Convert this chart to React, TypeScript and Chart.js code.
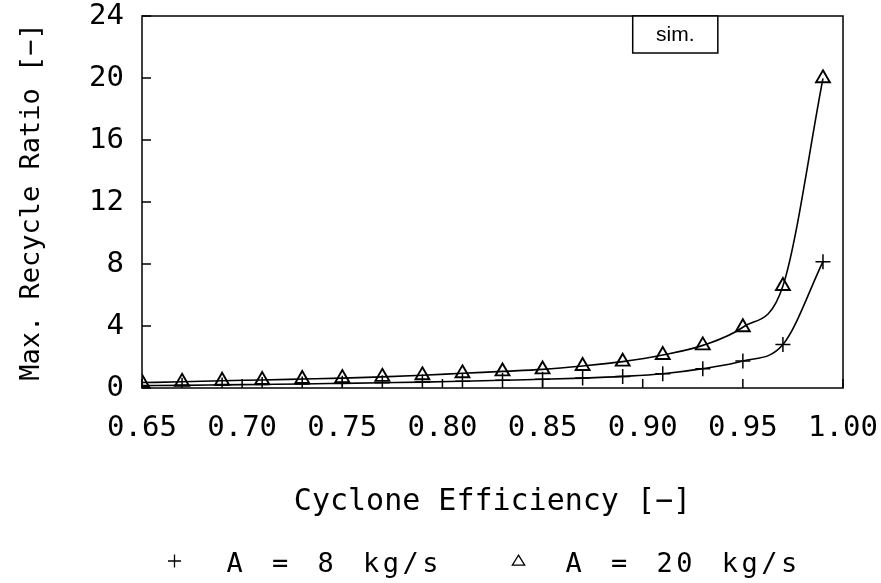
import React, { useEffect, useRef } from "react";
import { Chart, registerables } from "chart.js";

Chart.register(...registerables);

const efficiency = [0.65, 0.67, 0.69, 0.71, 0.73, 0.75, 0.77, 0.79, 0.81, 0.83, 0.85, 0.87, 0.89, 0.91, 0.93, 0.95, 0.97, 0.99];
const ratioA8 = [0.15, 0.17, 0.2, 0.23, 0.26, 0.3, 0.34, 0.38, 0.44, 0.5, 0.56, 0.64, 0.75, 0.92, 1.25, 1.74, 2.8, 8.15];
const ratioA20 = [0.35, 0.4, 0.47, 0.52, 0.58, 0.64, 0.72, 0.82, 0.95, 1.07, 1.2, 1.42, 1.7, 2.13, 2.75, 3.92, 6.58, 19.98];
const seriesLabels = ["A = 8 kg/s", "A = 20 kg/s"];
const xTickValues = [0.65, 0.7, 0.75, 0.8, 0.85, 0.9, 0.95, 1.0];
const yTickValues = [0, 4, 8, 12, 16, 20, 24];
const xTitle = "Cyclone Efficiency [−]";
const yTitle = "Max. Recycle Ratio [−]";
const noteText = "sim.";
const noteRange = [0.895, 0.9375];

const MONO = "'DejaVu Sans Mono', monospace";
const SANS = "'Liberation Sans', Arial, sans-serif";

function drawMarker(ctx: CanvasRenderingContext2D, style: string, r: number, x: number, y: number) {
  ctx.beginPath();
  if (style === "cross") {
    ctx.moveTo(x - r, y);
    ctx.lineTo(x + r, y);
    ctx.moveTo(x, y - r);
    ctx.lineTo(x, y + r);
  } else {
    const h = r * 0.9;
    ctx.moveTo(x, y - h);
    ctx.lineTo(x + r * 0.95, y + h * 0.7);
    ctx.lineTo(x - r * 0.95, y + h * 0.7);
    ctx.closePath();
  }
  ctx.stroke();
}

const framePlugin = {
  id: "frame",
  afterDraw(chart: any) {
    const { ctx, chartArea, scales } = chart;
    const { left, right, top, bottom } = chartArea;
    ctx.save();
    ctx.strokeStyle = "#000";
    ctx.lineWidth = 1.5;
    ctx.strokeRect(left, top, right - left, bottom - top);
    // inward ticks
    ctx.beginPath();
    for (const v of xTickValues) {
      const px = scales.x.getPixelForValue(v);
      ctx.moveTo(px, bottom);
      ctx.lineTo(px, bottom - 9);
    }
    for (const v of yTickValues) {
      const py = scales.y.getPixelForValue(v);
      ctx.moveTo(left, py);
      ctx.lineTo(left + 9, py);
    }
    ctx.stroke();
    // note box
    const x0 = scales.x.getPixelForValue(noteRange[0]);
    const x1 = scales.x.getPixelForValue(noteRange[1]);
    const y0 = top;
    const h = 37;
    ctx.fillStyle = "#fff";
    ctx.fillRect(x0, y0, x1 - x0, h);
    ctx.strokeRect(x0, y0, x1 - x0, h);
    ctx.fillStyle = "#000";
    ctx.font = `21px ${SANS}`;
    ctx.textAlign = "center";
    ctx.textBaseline = "middle";
    ctx.fillText(noteText, (x0 + x1) / 2, y0 + h / 2 + 1);
    ctx.restore();

    // legend
    const cx = (left + right) / 2;
    const baseY = 572;
    const markY = 561;
    const items = [
      { style: chart.data.datasets[0].pointStyle, markX: cx - 318, textX: cx - 266, text: chart.data.datasets[0].label },
      { style: chart.data.datasets[1].pointStyle, markX: cx + 26, textX: cx + 73, text: chart.data.datasets[1].label },
    ];
    ctx.save();
    ctx.fillStyle = "#000";
    ctx.strokeStyle = "#000";
    ctx.font = `27px ${MONO}`;
    try {
      (ctx as any).letterSpacing = "3.5px";
      (ctx as any).wordSpacing = "6px";
    } catch (e) {}
    ctx.textAlign = "left";
    ctx.textBaseline = "alphabetic";
    for (const it of items) {
      ctx.lineWidth = 1.3;
      drawMarker(ctx, it.style, 6.5, it.markX, markY);
      ctx.fillText(it.text, it.textX, baseY);
    }
    ctx.restore();
  },
};

const zeroPadding = (s: any) => {
  s.paddingTop = 0;
  s.paddingBottom = 0;
  s.paddingLeft = 0;
  s.paddingRight = 0;
};

export default function App() {
  const ref = useRef<HTMLCanvasElement>(null);
  useEffect(() => {
    if (!ref.current) return;
    const chart = new Chart(ref.current, {
      type: "line",
      data: {
        datasets: [
          {
            label: seriesLabels[0],
            data: efficiency.map((x, i) => ({ x, y: ratioA8[i] })),
            borderColor: "#000",
            backgroundColor: "transparent",
            borderWidth: 1.6,
            pointStyle: "cross",
            pointRadius: 7.5,
            pointBorderWidth: 1.5,
            pointBorderColor: "#000",
            pointBackgroundColor: "transparent",
            cubicInterpolationMode: "monotone",
            fill: false,
          },
          {
            label: seriesLabels[1],
            data: efficiency.map((x, i) => ({ x, y: ratioA20[i] })),
            borderColor: "#000",
            backgroundColor: "transparent",
            borderWidth: 1.6,
            pointStyle: "triangle",
            pointRadius: 8,
            pointBorderWidth: 1.9,
            pointBorderColor: "#000",
            pointBackgroundColor: "transparent",
            cubicInterpolationMode: "monotone",
            fill: false,
          },
        ],
      },
      options: {
        animation: false,
        responsive: false,
        layout: { padding: { left: 0, right: 38, top: 16, bottom: 0 } },
        plugins: {
          tooltip: { enabled: false },
          legend: { display: false },
        },
        scales: {
          x: {
            type: "linear",
            min: 0.65,
            max: 1.0,
            afterBuildTicks: (s: any) => {
              s.ticks = xTickValues.map((v) => ({ value: v }));
            },
            afterFit: (s: any) => {
              s.height = 195;
              zeroPadding(s);
            },
            ticks: {
              color: "#000",
              font: { family: MONO, size: 29 },
              padding: 23,
              maxRotation: 0,
              autoSkip: false,
              callback: (v: any) => Number(v).toFixed(2),
            },
            grid: { display: false, drawTicks: false },
            border: { display: false },
            title: {
              display: true,
              text: xTitle,
              color: "#000",
              font: { family: MONO, size: 30 },
              padding: { top: 10, bottom: 63 },
            },
          },
          y: {
            type: "linear",
            min: 0,
            max: 24,
            afterBuildTicks: (s: any) => {
              s.ticks = yTickValues.map((v) => ({ value: v }));
            },
            afterFit: (s: any) => {
              s.width = 142;
              zeroPadding(s);
            },
            ticks: {
              color: "#000",
              font: { family: MONO, size: 29 },
              padding: 18,
              autoSkip: false,
            },
            grid: { display: false, drawTicks: false },
            border: { display: false },
            title: {
              display: true,
              text: yTitle,
              color: "#000",
              font: { family: MONO, size: 27 },
              padding: { top: 16, bottom: 0 },
            },
          },
        },
      },
      plugins: [framePlugin],
    } as any);
    return () => chart.destroy();
  }, []);
  return (
    <div style={{ position: "absolute", left: 0, top: 0, width: 881, height: 583, background: "#fff" }}>
      <canvas ref={ref} width={881} height={583} style={{ display: "block" }} />
    </div>
  );
}
